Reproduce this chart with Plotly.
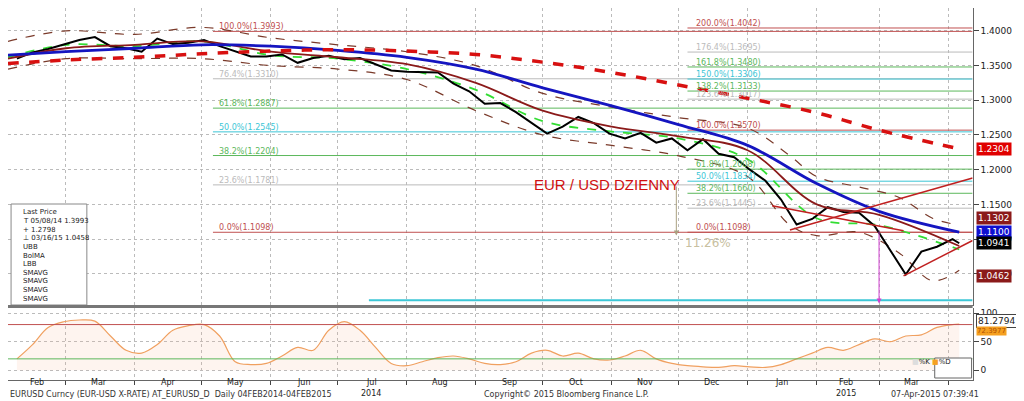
import plotly.graph_objects as go
import pandas as pd

weeks = list(pd.date_range("2014-02-07", "2015-04-03", freq="W-FRI").strftime("%Y-%m-%d")) + ["2015-04-06"]
close = [1.360,1.369,1.374,1.380,1.387,1.391,1.378,1.375,1.370,1.389,1.381,1.383,1.387,1.378,1.371,1.363,1.363,
         1.366,1.354,1.361,1.364,1.359,1.361,1.352,1.343,1.341,1.341,1.340,1.324,1.313,1.295,1.296,1.283,1.268,
         1.252,1.262,1.276,1.267,1.252,1.245,1.253,1.239,1.245,1.228,1.244,1.223,1.218,1.200,1.184,1.157,1.121,
         1.129,1.146,1.139,1.138,1.119,1.084,1.049,1.082,1.089,1.100,1.094]
stoch_d = [20,45,75,85,88,86,60,35,30,45,70,78,80,60,15,10,12,25,40,35,70,85,70,40,12,8,15,22,25,20,12,10,
           15,30,35,25,30,20,18,25,35,20,12,8,6,5,8,6,5,10,20,30,40,35,45,55,50,60,62,75,80,81]
ma_dates = ["2014-02-03","2014-03-01","2014-04-01","2014-05-01","2014-06-01","2014-07-01","2014-08-01",
            "2014-09-01","2014-10-01","2014-11-01","2014-12-01","2015-01-01","2015-02-01","2015-03-01","2015-04-06"]
sma200 = [1.353,1.358,1.362,1.367,1.371,1.373,1.371,1.366,1.355,1.340,1.322,1.303,1.282,1.257,1.230]
sma100 = [1.365,1.370,1.375,1.380,1.378,1.372,1.362,1.345,1.318,1.292,1.265,1.235,1.180,1.140,1.110]
bolma  = [1.360,1.375,1.380,1.385,1.370,1.362,1.352,1.325,1.285,1.262,1.248,1.228,1.150,1.135,1.090]
sma_g  = [1.362,1.380,1.378,1.385,1.365,1.360,1.345,1.315,1.270,1.255,1.245,1.215,1.130,1.120,1.085]
bb_dates = ["2014-02-03","2014-03-01","2014-04-01","2014-05-01","2014-06-01","2014-07-01","2014-08-01","2014-09-01",
            "2014-10-01","2014-11-01","2014-12-01","2015-01-01","2015-01-20","2015-02-01","2015-02-20","2015-03-10","2015-03-25","2015-04-06"]
ubb = [1.385,1.400,1.395,1.405,1.390,1.380,1.370,1.350,1.310,1.290,1.275,1.260,1.220,1.190,1.175,1.160,1.130,1.120]
lbb = [1.345,1.360,1.360,1.360,1.350,1.345,1.330,1.285,1.250,1.235,1.220,1.190,1.120,1.105,1.110,1.080,1.040,1.055]

fib1 = [("100.0%", 1.3993, "#c05050"), ("76.4%", 1.3310, "#bbbbbb"), ("61.8%", 1.2887, "#5cb85c"),
        ("50.0%", 1.2545, "#3cc6d6"), ("38.2%", 1.2204, "#5cb85c"), ("23.6%", 1.1781, "#bbbbbb"), ("0.0%", 1.1098, "#c05050")]
fib2 = [("200.0%", 1.4042, "#c05050"), ("176.4%", 1.3695, "#bbbbbb"), ("161.8%", 1.3480, "#5cb85c"),
        ("150.0%", 1.3306, "#3cc6d6"), ("138.2%", 1.3133, "#5cb85c"), ("123.6%", 1.3017, "#bbbbbb"),
        ("100.0%", 1.2570, "#c05050"), ("61.8%", 1.2008, "#5cb85c"), ("50.0%", 1.1834, "#3cc6d6"),
        ("38.2%", 1.1660, "#5cb85c"), ("23.6%", 1.1445, "#bbbbbb"), ("0.0%", 1.1098, "#c05050")]
trend_x = [["2015-01-20", "2015-04-12"], ["2015-01-12", "2015-03-12"], ["2015-03-12", "2015-04-12"]]
trend_y = [[1.113, 1.188], [1.148, 1.112], [1.047, 1.098]]
tags = [(1.2304, "#e00000", "white"), (1.1302, "#8b1a1a", "white"), (1.1100, "#1010d0", "white"),
        (1.0941, "#000000", "white"), (1.0462, "#8b1a1a", "white")]
month_mid = ["2014-02-16","2014-03-16","2014-04-16","2014-05-16","2014-06-16","2014-07-16","2014-08-16","2014-09-16",
             "2014-10-16","2014-11-16","2014-12-16","2015-01-16","2015-02-14","2015-03-16"]
month_lab = ["Feb","Mar","Apr","May","Jun","Jul","Aug","Sep","Oct","Nov","Dec","Jan","Feb","Mar"]

fig = go.Figure()
X0, X1 = "2014-02-03", "2015-04-12"
for name, v, c in fib1:
    fig.add_trace(go.Scatter(x=["2014-05-06", X1], y=[v, v], mode="lines", line=dict(color=c, width=1), hoverinfo="skip"))
    fig.add_annotation(x="2014-05-08", y=v, text=f"{name}({v:.4f})", showarrow=False,
                       xanchor="left", yanchor="bottom", font=dict(size=8, color=c), yshift=-2)
for name, v, c in fib2:
    fig.add_trace(go.Scatter(x=["2014-12-05", X1], y=[v, v], mode="lines", line=dict(color=c, width=1), hoverinfo="skip"))
    fig.add_annotation(x="2014-12-08", y=v, text=f"{name}({v:.4f})", showarrow=False,
                       xanchor="left", yanchor="bottom", font=dict(size=8, color=c), yshift=-2)
fig.add_trace(go.Scatter(x=["2014-07-15", X1], y=[1.012, 1.012], mode="lines", line=dict(color="#3cc6d6", width=2)))
fig.add_trace(go.Scatter(x=bb_dates, y=ubb, mode="lines", line=dict(color="#7a3a2a", width=1.2, dash="dash", shape="spline")))
fig.add_trace(go.Scatter(x=bb_dates, y=lbb, mode="lines", line=dict(color="#7a3a2a", width=1.2, dash="dash", shape="spline")))
fig.add_trace(go.Scatter(x=ma_dates, y=sma_g, mode="lines", line=dict(color="#33dd33", width=1.8, dash="dash", shape="spline")))
fig.add_trace(go.Scatter(x=weeks, y=close, mode="lines", line=dict(color="black", width=2)))
fig.add_trace(go.Scatter(x=ma_dates, y=bolma, mode="lines", line=dict(color="#8b1a1a", width=1.8, shape="spline")))
fig.add_trace(go.Scatter(x=ma_dates, y=sma100, mode="lines", line=dict(color="#1515c0", width=2.8, shape="spline")))
fig.add_trace(go.Scatter(x=ma_dates, y=sma200, mode="lines", line=dict(color="#d81010", width=3.5, dash="dash", shape="spline")))
for tx, ty in zip(trend_x, trend_y):
    fig.add_trace(go.Scatter(x=tx, y=ty, mode="lines", line=dict(color="#c02020", width=1.5)))
for v, bg, fg in tags:
    fig.add_annotation(xref="paper", x=0.945, y=v, text=f"{v:.4f}", showarrow=False, xanchor="left",
                       bgcolor=bg, font=dict(size=9, color=fg, family="DejaVu Sans"), borderpad=1)
fig.add_annotation(x="2014-09-26", y=1.178, text="EUR / USD DZIENNY", showarrow=False, xanchor="left",
                   font=dict(size=15, color="#d01010", family="Arial"))
fig.add_annotation(x="2014-11-30", y=1.105, ax="2014-11-30", ay=1.178, axref="x", ayref="y",
                   showarrow=True, arrowhead=2, arrowcolor="#aaa080", text="")
fig.add_annotation(x="2014-12-03", y=1.095, text="11.26%", showarrow=False, xanchor="left",
                   font=dict(size=12, color="#c8c0a0"))
fig.add_annotation(x="2015-03-01", y=1.007, ax="2015-03-01", ay=1.113, axref="x", ayref="y",
                   showarrow=True, arrowhead=2, arrowcolor="#d040d0", text="")

# stochastic
fig.add_trace(go.Scatter(x=weeks, y=stoch_d, mode="lines", line=dict(color="#f0a060", width=1.2, shape="spline"),
                         fill="tozeroy", fillcolor="rgba(250,180,150,0.15)", xaxis="x2", yaxis="y2"))
fig.add_trace(go.Scatter(x=[X0, X1], y=[80, 80], mode="lines", line=dict(color="#c05050", width=1), xaxis="x2", yaxis="y2"))
fig.add_trace(go.Scatter(x=[X0, X1], y=[20, 20], mode="lines", line=dict(color="#5cb85c", width=1), xaxis="x2", yaxis="y2"))
fig.add_annotation(xref="paper", yref="y2", x=0.945, y=86, text="81.2794", showarrow=False, xanchor="left",
                   bgcolor="white", bordercolor="#444", font=dict(size=9), borderpad=1)
fig.add_annotation(xref="paper", yref="y2", x=0.945, y=68, text="72.3977", showarrow=False, xanchor="left",
                   bgcolor="#f5a020", font=dict(size=7, color="#b05000"), borderpad=0)
fig.add_shape(type="rect", xref="paper", yref="paper", x0=0.905, x1=0.941, y0=1-370/401, y1=1-350/401,
              line=dict(color="#666", width=1), fillcolor="white")
fig.add_annotation(xref="paper", yref="paper", x=0.923, y=1-360/401, text="<span style='color:#ddd'>■</span>%K <span style='color:#f5a020'>■</span>%D",
                   showarrow=False, font=dict(size=7))

# legend box
leg = ["Last Price", "T 05/08/14 1.3993", "+ 1.2798", "⊥ 03/16/15 1.0458", "UBB", "BolMA", "LBB", "SMAVG", "SMAVG", "SMAVG", "SMAVG"]
fig.add_shape(type="rect", xref="paper", yref="paper", x0=0.003, x1=0.077, y0=1-297/401, y1=1-196/401,
              line=dict(color="#888", width=1), fillcolor="white", layer="above")
for i, t in enumerate(leg):
    fig.add_annotation(xref="paper", yref="paper", x=0.013, y=1-(204+8.6*i)/401, text=t, showarrow=False,
                       xanchor="left", yanchor="middle", font=dict(size=7, color="#222"), height=9)

for d, t in zip(month_mid, month_lab):
    fig.add_annotation(xref="x2", yref="paper", x=d, y=1-381/401, text=t, showarrow=False, font=dict(size=8))
fig.add_annotation(xref="x2", yref="paper", x="2014-07-16", y=1-392/401, text="2014", showarrow=False, font=dict(size=8))
fig.add_annotation(xref="x2", yref="paper", x="2015-02-14", y=1-392/401, text="2015", showarrow=False, font=dict(size=8))
for xp, t, anc in [(0.0, "EURUSD Curncy (EUR-USD X-RATE) AT_EURUSD_D  Daily 04FEB2014-04FEB2015", "left"),
                   (0.545, "Copyright© 2015 Bloomberg Finance L.P.", "center"),
                   (0.905, "07-Apr-2015 07:39:41", "center")]:
    fig.add_annotation(xref="paper", yref="paper", x=xp, y=1-393/401, text=t, showarrow=False,
                       xanchor=anc, font=dict(size=8, color="#333"))

ax = dict(range=[X0, X1], showgrid=True, gridcolor="#bbb", griddash="dot", gridwidth=1, dtick="M1",
          tick0="2014-02-01", showline=True, linecolor="#666", zeroline=False, showticklabels=False)
fig.update_layout(
    width=1024, height=401, margin=dict(l=0, r=0, t=0, b=0), showlegend=False,
    plot_bgcolor="white", paper_bgcolor="white", font=dict(family="DejaVu Sans", size=9, color="#222"),
    xaxis=dict(**ax, domain=[0, 0.942], anchor="y"),
    xaxis2=dict(**ax, domain=[0, 0.942], anchor="y2", ticks="outside", ticklen=4),
    yaxis=dict(domain=[1-297/401, 1], range=[1.005, 1.433], side="right", dtick=0.05, tickformat=".4f",
               showgrid=True, gridcolor="#bbb", griddash="dot", ticks="outside", showline=True, linecolor="#666",
               anchor="x", zeroline=False),
    yaxis2=dict(domain=[1-372/401, 1-300/401], range=[-17, 109], side="right", tickvals=[0, 50, 100],
                showgrid=True, gridcolor="#bbb", griddash="dot", ticks="outside", showline=True, linecolor="#666",
                anchor="x2", zeroline=False),
)
fig.add_shape(type="line", xref="paper", yref="paper", x0=0, x1=0.942, y0=1-298.5/401, y1=1-298.5/401,
              line=dict(color="#777", width=3))
fig.write_html("out.html")
